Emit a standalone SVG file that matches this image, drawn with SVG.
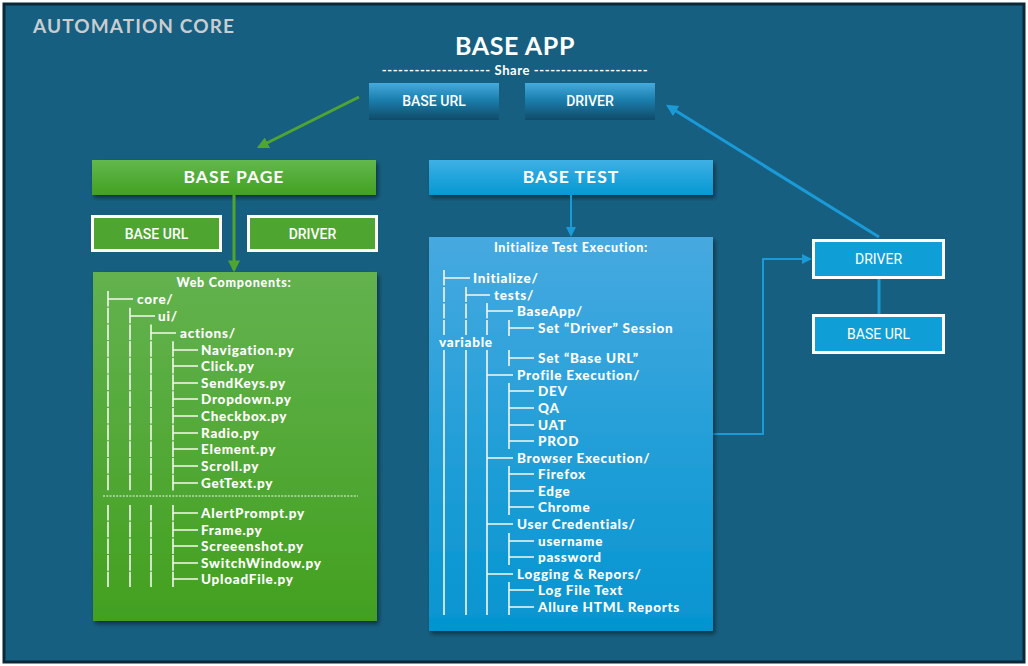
<svg xmlns="http://www.w3.org/2000/svg" width="1028" height="666" viewBox="0 0 1028 666">
<defs>
<linearGradient id="gApp" x1="0" y1="0" x2="0" y2="1"><stop offset="0" stop-color="#45aadd"/><stop offset="0.45" stop-color="#1b7fae"/><stop offset="1" stop-color="#104b68"/></linearGradient>
<linearGradient id="gGreenH" x1="0" y1="0" x2="0" y2="1"><stop offset="0" stop-color="#62b84d"/><stop offset="1" stop-color="#43a122"/></linearGradient>
<linearGradient id="gGreenB" x1="0" y1="0" x2="0" y2="1"><stop offset="0" stop-color="#63b24f"/><stop offset="1" stop-color="#42a01f"/></linearGradient>
<linearGradient id="gBlueH" x1="0" y1="0" x2="0" y2="1"><stop offset="0" stop-color="#3eb0e5"/><stop offset="1" stop-color="#0598d2"/></linearGradient>
<linearGradient id="gBlueB" x1="0" y1="0" x2="0" y2="1"><stop offset="0" stop-color="#46a9e0"/><stop offset="1" stop-color="#0495d0"/></linearGradient>
<filter id="sh" x="-5%" y="-5%" width="115%" height="120%"><feDropShadow dx="2" dy="3" stdDeviation="2" flood-color="#000" flood-opacity="0.45"/></filter>
<marker id="aGreen" viewBox="0 0 10 10" refX="8" refY="5" markerWidth="4" markerHeight="4" orient="auto"><path d="M0,0L10,5L0,10z" fill="#4ea630"/></marker>
<marker id="aBlue" viewBox="0 0 10 10" refX="8" refY="5" markerWidth="4" markerHeight="4" orient="auto"><path d="M0,0L10,5L0,10z" fill="#1a9ad6"/></marker>
<marker id="aBlueS" viewBox="0 0 10 10" refX="8" refY="5" markerWidth="5" markerHeight="5" orient="auto"><path d="M0,0L10,5L0,10z" fill="#1a9ad6"/></marker>
</defs>
<style>
.t{font-family:Lato,"Open Sans","DejaVu Sans",sans-serif;font-weight:700;fill:#fff}
.c{font-family:Roboto,"Liberation Sans",sans-serif;font-weight:500;fill:#fff;font-size:14px}
.tr{font-family:Lato,"Open Sans",sans-serif;font-weight:900;fill:#fff;font-size:13.5px;letter-spacing:0.75px}
.tl{stroke:#f6f9ec;stroke-width:1.3;fill:none}
.vl{stroke:#f3f7ee;stroke-width:1.6;fill:none;stroke-dasharray:15.6 1.1}
</style>
<rect x="4" y="4" width="1020" height="658" fill="#175f80" stroke="#0b2838" stroke-width="3"/>
<text class="t" x="33" y="33" font-size="19" style="fill:#c9cdd0" letter-spacing="1.1">AUTOMATION CORE</text>

<g id="base-app">
<text class="t" x="515" y="55" font-size="25" letter-spacing="0.6" text-anchor="middle">BASE APP</text>
<text class="t" x="515" y="75" font-size="13" letter-spacing="0.6" text-anchor="middle">-------------------- Share ---------------------</text>
</g>
<g id="app-base-url"><rect x="369" y="83" width="130" height="37" fill="url(#gApp)"/><text class="c" x="434" y="106" text-anchor="middle">BASE URL</text></g>
<g id="app-driver"><rect x="525" y="83" width="130" height="37" fill="url(#gApp)"/><text class="c" x="590" y="106" text-anchor="middle">DRIVER</text></g>

<g id="base-page"><rect x="92" y="160" width="284" height="35" fill="url(#gGreenH)" filter="url(#sh)"/><text class="t" x="234" y="183" font-size="17.5" letter-spacing="1" text-anchor="middle">BASE PAGE</text></g>
<g id="page-base-url"><rect x="92.5" y="216.5" width="128" height="34" fill="#4ea630" stroke="#fff" stroke-width="3"/><text class="c" x="156.5" y="239" text-anchor="middle">BASE URL</text></g>
<g id="page-driver"><rect x="248.5" y="216.5" width="128" height="34" fill="#4ea630" stroke="#fff" stroke-width="3"/><text class="c" x="312.5" y="239" text-anchor="middle">DRIVER</text></g>

<g id="base-test"><rect x="429" y="160" width="284" height="35" fill="url(#gBlueH)" filter="url(#sh)"/><text class="t" x="571" y="183" font-size="17.5" letter-spacing="1" text-anchor="middle">BASE TEST</text></g>

<g id="right-driver"><rect x="813.5" y="240.5" width="130" height="37" fill="#0f9fd6" stroke="#fff" stroke-width="3"/><text class="c" x="878.5" y="264" text-anchor="middle" style="font-weight:400">DRIVER</text></g>
<g id="right-base-url"><rect x="813.5" y="315.5" width="130" height="37" fill="#0f9fd6" stroke="#fff" stroke-width="3"/><text class="c" x="878.5" y="339" text-anchor="middle" style="font-weight:400">BASE URL</text></g>

<g id="connectors" fill="none">
<line x1="359" y1="97" x2="259" y2="147" stroke="#4ea630" stroke-width="3" marker-end="url(#aGreen)"/>
<line x1="234" y1="195" x2="234" y2="270" stroke="#4ea630" stroke-width="3" marker-end="url(#aGreen)"/>
<line x1="571" y1="195" x2="571" y2="235" stroke="#1a9ad6" stroke-width="2" marker-end="url(#aBlueS)"/>
<line x1="879" y1="237" x2="668" y2="106" stroke="#1a9ad6" stroke-width="3" marker-end="url(#aBlue)"/>
<line x1="879" y1="279" x2="879" y2="314" stroke="#1a9ad6" stroke-width="3"/>
<polyline points="713,434 763,434 763,259 810,259" stroke="#1a9ad6" stroke-width="2" marker-end="url(#aBlueS)"/>
</g>

<g id="web-components">
<rect x="93" y="272" width="284" height="349" fill="url(#gGreenB)" filter="url(#sh)"/>
<text class="tr" x="234" y="287" text-anchor="middle" font-size="12.5" style="font-size:12.5px">Web Components:</text>
<path class="vl" d="M108 291V491M130 307.7V491M151 324.5V491M173 341.2V491"/>
<path class="vl" d="M108 505V587M130 505V587M151 505V587M173 505V587"/>
<path class="tl" d="M108 299H133M130 316H155M151 333H176M173 350H198M173 366H198M173 383H198M173 399H198M173 416H198M173 433H198M173 449H198M173 466H198M173 483H198M173 513H198M173 530H198M173 546H198M173 563H198M173 579H198"/>
<line x1="103" y1="496" x2="358" y2="496" stroke="#f3f7ee" stroke-width="1" stroke-dasharray="2 1.3"/>
<text class="tr" x="137" y="303.5">core/</text>
<text class="tr" x="158" y="320.5">ui/</text>
<text class="tr" x="180" y="337.5">actions/</text>
<text class="tr" x="201" y="354.5">Navigation.py</text>
<text class="tr" x="201" y="370.5">Click.py</text>
<text class="tr" x="201" y="387.5">SendKeys.py</text>
<text class="tr" x="201" y="403.5">Dropdown.py</text>
<text class="tr" x="201" y="420.5">Checkbox.py</text>
<text class="tr" x="201" y="437.5">Radio.py</text>
<text class="tr" x="201" y="453.5">Element.py</text>
<text class="tr" x="201" y="470.5">Scroll.py</text>
<text class="tr" x="201" y="487.5">GetText.py</text>
<text class="tr" x="201" y="517.5">AlertPrompt.py</text>
<text class="tr" x="201" y="534.5">Frame.py</text>
<text class="tr" x="201" y="550.5">Screeenshot.py</text>
<text class="tr" x="201" y="567.5">SwitchWindow.py</text>
<text class="tr" x="201" y="583.5">UploadFile.py</text>
</g>

<g id="initialize-test-execution">
<rect x="429" y="237" width="284" height="394" fill="url(#gBlueB)" filter="url(#sh)"/>
<text class="tr" x="571" y="252" text-anchor="middle" style="font-size:12.5px">Initialize Test Execution:</text>
<path class="vl" style="stroke-dasharray:none" d="M444 270V335M466 287V335M487 303V335M509 320V336M444 350V615M466 350V615M487 350V615M509 350V366M509 383V449M509 466V515M509 533V565M509 582V615"/>
<path d="M444 285.5V287M444 302V303.5M466 302V303.5M444 318.5V320M466 318.5V320M487 318.5V320" stroke="#2aa0d8" stroke-width="2"/>
<path class="tl" d="M444 278H470M466 295H490M487 311H513M509 328H534M509 358H534M487 375H513M509 391H534M509 408H534M509 425H534M509 441H534M487 458H513M509 474H534M509 491H534M509 507H534M487 524H513M509 541H534M509 557H534M487 574H513M509 590H534M509 607H534"/>
<text class="tr" x="473" y="282.5">Initialize/</text>
<text class="tr" x="494" y="299.5">tests/</text>
<text class="tr" x="517" y="315.5">BaseApp/</text>
<text class="tr" x="538" y="332.5">Set “Driver” Session</text>
<text class="tr" x="439" y="346.5">variable</text>
<text class="tr" x="538" y="362.5">Set “Base URL”</text>
<text class="tr" x="517" y="379.5">Profile Execution/</text>
<text class="tr" x="538" y="395.5">DEV</text>
<text class="tr" x="538" y="412.5">QA</text>
<text class="tr" x="538" y="429.5">UAT</text>
<text class="tr" x="538" y="445.5">PROD</text>
<text class="tr" x="517" y="462.5">Browser Execution/</text>
<text class="tr" x="538" y="478.5">Firefox</text>
<text class="tr" x="538" y="495.5">Edge</text>
<text class="tr" x="538" y="511.5">Chrome</text>
<text class="tr" x="517" y="528.5">User Credentials/</text>
<text class="tr" x="538" y="545.5">username</text>
<text class="tr" x="538" y="561.5">password</text>
<text class="tr" x="517" y="578.5">Logging &amp; Repors/</text>
<text class="tr" x="538" y="594.5">Log File Text</text>
<text class="tr" x="538" y="611.5">Allure HTML Reports</text>
</g>
</svg>
